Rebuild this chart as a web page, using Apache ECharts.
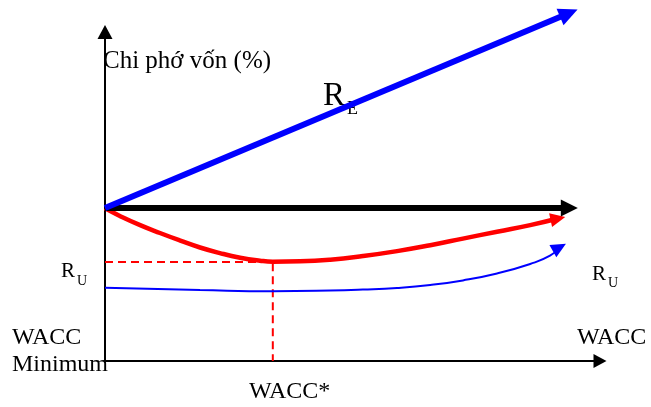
<!DOCTYPE html>
<html>
<head>
<meta charset="utf-8">
<title>Chi phí vốn và WACC</title>
<script src="https://cdn.jsdelivr.net/npm/echarts@6/dist/echarts.min.js"></script>
<style>
  html, body { margin: 0; padding: 0; background: #fff; }
  #chart { width: 651px; height: 407px; }
</style>
</head>
<body>
<div id="chart"></div>
<script>
// Trục ngang: đòn bẩy (0..10), trục dọc: chi phí vốn (0..10), đơn vị tương đối

// R_E – đường thẳng xanh đậm
const reX = [0, 9.37]
const reY = [4.65, 10.57]

// đường ngang màu đen
const flatX = [0, 9.38]
const flatY = [4.65, 4.65]

// WACC – đường cong đỏ
const waccX = [0, 0.30, 0.71, 1.11, 1.52, 1.92, 2.32, 2.73, 3.13, 3.39, 3.94, 4.55, 5.21, 5.90, 6.57, 7.23, 7.92, 8.59, 9.15]
const waccY = [4.64, 4.41, 4.13, 3.89, 3.66, 3.45, 3.28, 3.14, 3.05, 3.02, 3.03, 3.08, 3.19, 3.34, 3.52, 3.72, 3.93, 4.13, 4.33]

// R_U – đường cong xanh mảnh
const ruX = [0, 1.92, 3.39, 4.55, 5.21, 5.90, 6.57, 7.23, 7.92, 8.59, 8.99, 9.18]
const ruY = [2.23, 2.16, 2.12, 2.14, 2.17, 2.22, 2.31, 2.45, 2.66, 2.95, 3.20, 3.45]

// điểm WACC* (đường nét đứt)
const optX = [0, 3.39, 3.39]
const optY = [3.01, 3.01, 0]

const FONT = "'Liberation Serif', 'Times New Roman', serif"

/**
 * Tạo một series line, điểm cuối có mũi tên tam giác
 */
const makeLine = (name, xs, ys, color, width, arrowSize, smooth, z) => ({
  name,
  type: 'line',
  data: xs.map((x, i) => {
    if (arrowSize && i === xs.length - 1) {
      return { value: [x, ys[i]], symbol: 'triangle', symbolSize: arrowSize, symbolRotate: 0 }
    }
    return [x, ys[i]]
  }),
  symbol: 'none',
  smooth,
  clip: false,
  silent: true,
  z,
  lineStyle: { color, width },
  itemStyle: { color, borderWidth: 0 }
})

const text = (x, y, str, size) => ({
  type: 'text', x, y,
  style: { text: str, font: size + 'px ' + FONT, fill: '#000', verticalAlign: 'middle' }
})

const chart = echarts.init(document.getElementById('chart'))

const option = {
  animation: false,
  backgroundColor: '#fff',
  grid: { left: 105, right: 51, top: 32, bottom: 46, containLabel: false },
  xAxis: {
    type: 'value', min: 0, max: 10,
    axisLine: { show: true, symbol: ['none', 'triangle'], symbolSize: [14, 13], lineStyle: { color: '#000', width: 2 } },
    axisTick: { show: false }, axisLabel: { show: false }, splitLine: { show: false }
  },
  yAxis: {
    type: 'value', min: 0, max: 10,
    axisLine: { show: true, symbol: ['none', 'triangle'], symbolSize: [15, 14], lineStyle: { color: '#000', width: 2 } },
    axisTick: { show: false }, axisLabel: { show: false }, splitLine: { show: false }
  },
  series: [
    {
      name: 'WACC*',
      type: 'line',
      data: optX.map((x, i) => [x, optY[i]]),
      symbol: 'none',
      silent: true,
      z: 1,
      lineStyle: { color: '#ff0000', width: 2, type: [8, 5] }
    },
    makeLine('R_U', ruX, ruY, '#0000ff', 2, [14, 15], 0.5, 2),
    makeLine('WACC', waccX, waccY, '#ff0000', 4.5, [14, 15], 0.5, 3),
    makeLine('flat', flatX, flatY, '#000000', 6, [17, 17], false, 4),
    makeLine('R_E', reX, reY, '#0000ff', 6, [18, 19], false, 5)
  ],
  graphic: [
    text(103, 61, 'Chi phớ vốn (%)', 25),
    text(323, 96, 'R', 33),
    text(347, 109, 'E', 18),
    text(61, 271, 'R', 21),
    text(77, 281, 'U', 14),
    text(592, 274, 'R', 21),
    text(608, 283, 'U', 14),
    text(12, 338, 'WACC', 24),
    text(12, 365, 'Minimum', 24),
    text(577, 338, 'WACC', 24),
    text(249, 392, 'WACC*', 24)
  ]
}

chart.setOption(option)

// xoay mũi tên theo hướng đoạn cuối của mỗi đường (đường cong: lấy điểm n-3 cho ổn định)
option.series.forEach((s) => {
  const n = s.data.length
  const last = s.data[n - 1]
  if (!last || !last.symbol) return
  const prev = s.data[n > 3 ? n - 3 : n - 2]
  const p1 = chart.convertToPixel({ gridIndex: 0 }, prev.value || prev)
  const p2 = chart.convertToPixel({ gridIndex: 0 }, last.value)
  const ang = Math.atan2(p1[1] - p2[1], p2[0] - p1[0]) * 180 / Math.PI
  last.symbolRotate = ang - 90
})
chart.setOption(option)
</script>
</body>
</html>
